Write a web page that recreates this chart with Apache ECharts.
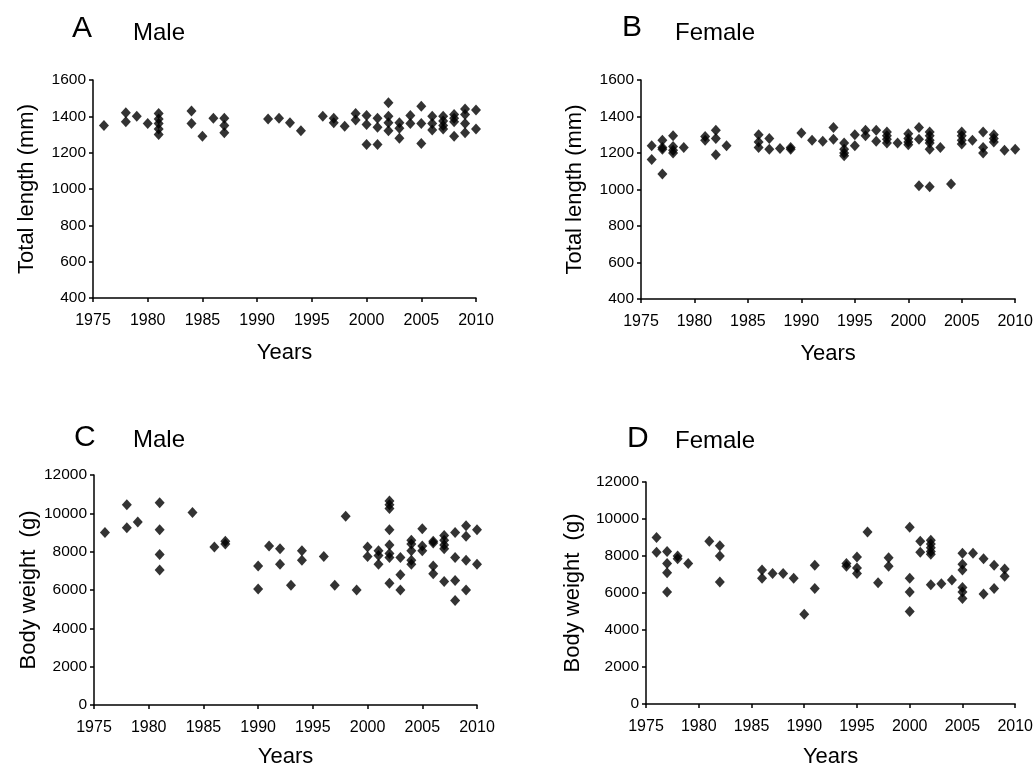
<!DOCTYPE html>
<html>
<head>
<meta charset="utf-8">
<script src="https://cdn.jsdelivr.net/npm/echarts@6/dist/echarts.min.js"></script>
<style>
  html, body { margin: 0; padding: 0; background: #fff; }
  #chart { width: 1036px; height: 769px; }
</style>
</head>
<body>
<div id="chart"></div>
<script>
// [year, value] pairs
var maleLength = [
  [1976, 1350], [1978, 1420], [1978, 1370], [1979, 1400], [1980, 1360],
  [1981, 1415], [1981, 1385], [1981, 1360], [1981, 1330], [1981, 1300],
  [1984, 1430], [1984, 1360], [1985, 1290], [1986, 1390],
  [1987, 1390], [1987, 1350], [1987, 1310],
  [1991, 1385], [1992, 1390], [1993, 1365], [1994, 1320],
  [1996, 1400], [1997, 1390], [1997, 1365], [1998, 1345], [1999, 1415], [1999, 1380],
  [2000, 1405], [2000, 1355], [2000, 1245],
  [2001, 1390], [2001, 1340], [2001, 1245],
  [2002, 1475], [2002, 1400], [2002, 1365], [2002, 1320],
  [2003, 1365], [2003, 1335], [2003, 1280],
  [2004, 1405], [2004, 1360],
  [2005, 1455], [2005, 1360], [2005, 1250],
  [2006, 1400], [2006, 1360], [2006, 1325],
  [2007, 1400], [2007, 1375], [2007, 1350], [2007, 1330],
  [2008, 1410], [2008, 1390], [2008, 1370], [2008, 1290],
  [2009, 1440], [2009, 1410], [2009, 1360], [2009, 1310],
  [2010, 1435], [2010, 1330]
]
var femaleLength = [
  [1976, 1240], [1976, 1165],
  [1977, 1270], [1977, 1230], [1977, 1220], [1977, 1085],
  [1978, 1295], [1978, 1235], [1978, 1215], [1978, 1200],
  [1979, 1230], [1981, 1290], [1981, 1270],
  [1982, 1325], [1982, 1280], [1982, 1190], [1983, 1240],
  [1986, 1300], [1986, 1260], [1986, 1230], [1987, 1280], [1987, 1220],
  [1988, 1225], [1989, 1230], [1989, 1220], [1990, 1310], [1991, 1270], [1992, 1265],
  [1993, 1340], [1993, 1275],
  [1994, 1255], [1994, 1220], [1994, 1200], [1994, 1185],
  [1995, 1300], [1995, 1240], [1996, 1325], [1996, 1295], [1997, 1325], [1997, 1265],
  [1998, 1315], [1998, 1295], [1998, 1275], [1998, 1255], [1999, 1255],
  [2000, 1305], [2000, 1280], [2000, 1260], [2000, 1245],
  [2001, 1340], [2001, 1275], [2001, 1020],
  [2002, 1315], [2002, 1295], [2002, 1270], [2002, 1255], [2002, 1220], [2002, 1015],
  [2003, 1230], [2004, 1030],
  [2005, 1315], [2005, 1295], [2005, 1270], [2005, 1250], [2006, 1270],
  [2007, 1315], [2007, 1230], [2007, 1200],
  [2008, 1300], [2008, 1280], [2008, 1260], [2009, 1215], [2010, 1220]
]
var maleWeight = [
  [1976, 9000], [1978, 10450], [1978, 9250], [1979, 9550],
  [1981, 10550], [1981, 9150], [1981, 7850], [1981, 7050],
  [1984, 10050], [1986, 8250], [1987, 8550], [1987, 8400],
  [1990, 7250], [1990, 6050], [1991, 8300], [1992, 8150], [1992, 7350],
  [1993, 6250], [1994, 8050], [1994, 7550], [1996, 7750], [1997, 6250],
  [1998, 9850], [1999, 6000], [2000, 8250], [2000, 7750],
  [2001, 8050], [2001, 7800], [2001, 7350],
  [2002, 10650], [2002, 10450], [2002, 10250], [2002, 9150], [2002, 8350], [2002, 7900], [2002, 7700], [2002, 6350],
  [2003, 7700], [2003, 6800], [2003, 6000],
  [2004, 8600], [2004, 8400], [2004, 8050], [2004, 7550], [2004, 7350],
  [2005, 9200], [2005, 8300], [2005, 8050],
  [2006, 8550], [2006, 8450], [2006, 7250], [2006, 6850],
  [2007, 8850], [2007, 8600], [2007, 8350], [2007, 8150], [2007, 6450],
  [2008, 9000], [2008, 7700], [2008, 6500], [2008, 5450],
  [2009, 9350], [2009, 8800], [2009, 7550], [2009, 6000],
  [2010, 9150], [2010, 7350]
]
var femaleWeight = [
  [1976, 9000], [1976, 8200], [1977, 8250], [1977, 7600], [1977, 7100], [1977, 6050],
  [1978, 8000], [1978, 7850], [1979, 7600], [1981, 8800],
  [1982, 8550], [1982, 8000], [1982, 6600], [1986, 7250], [1986, 6800],
  [1987, 7050], [1988, 7050], [1989, 6800], [1990, 4850], [1991, 7500], [1991, 6250],
  [1994, 7600], [1994, 7450], [1995, 7950], [1995, 7350], [1995, 7050],
  [1996, 9300], [1997, 6550], [1998, 7900], [1998, 7450],
  [2000, 9550], [2000, 6800], [2000, 6050], [2000, 5000],
  [2001, 8800], [2001, 8200],
  [2002, 8850], [2002, 8650], [2002, 8450], [2002, 8250], [2002, 8100], [2002, 6450],
  [2003, 6500], [2004, 6700],
  [2005, 8150], [2005, 7550], [2005, 7250], [2005, 6300], [2005, 6050], [2005, 5700],
  [2006, 8150], [2007, 7850], [2007, 5950], [2008, 7500], [2008, 6250],
  [2009, 7300], [2009, 6900]
]

var font = "'Liberation Sans', Arial, sans-serif"
var grids = [
  {left: 93, top: 80, width: 383, height: 218},
  {left: 641, top: 80, width: 377, height: 219},
  {left: 94, top: 475, width: 383, height: 231},
  {left: 646, top: 482, width: 373, height: 225}
]
var yNames = ['Total length (mm)', 'Total length (mm)', 'Body weight  (g)', 'Body weight  (g)']
var yRanges = [[400, 1600, 200], [400, 1600, 200], [0, 12000, 2000], [0, 12000, 2000]]
var yGaps = [55, 55, 54, 62]
var xGaps = [44, 44, 41, 42]
var seriesData = [maleLength, femaleLength, maleWeight, femaleWeight]

var axisLine = {onZero: false, lineStyle: {color: '#000', width: 1.5}}
var axisTick = {length: 4, lineStyle: {color: '#000', width: 1.5}}
// plain numbers, no thousands separators
var plain = function (v) { return String(v) }

var xAxes = grids.map(function (g, i) {
  return {
    type: 'value', gridIndex: i, min: 1975, max: 2010, interval: 5,
    name: 'Years', nameLocation: 'middle', nameGap: xGaps[i],
    nameTextStyle: {fontFamily: font, fontSize: 22, color: '#000'},
    axisLine: axisLine, axisTick: axisTick, splitLine: {show: false},
    axisLabel: {fontFamily: font, fontSize: 16, color: '#000', margin: 15, formatter: plain}
  }
})
var yAxes = grids.map(function (g, i) {
  return {
    type: 'value', gridIndex: i, min: yRanges[i][0], max: yRanges[i][1], interval: yRanges[i][2],
    name: yNames[i], nameLocation: 'middle', nameGap: yGaps[i],
    nameTextStyle: {fontFamily: font, fontSize: 22, color: '#000'},
    axisLine: axisLine, axisTick: axisTick, splitLine: {show: false},
    axisLabel: {fontFamily: font, fontSize: 15.5, color: '#000', margin: 7, formatter: plain}
  }
})

function title(text, left, top, size) {
  return {text: text, left: left, top: top, padding: 0,
    textStyle: {fontFamily: font, fontSize: size, fontWeight: 'normal', color: '#000'}}
}

var chart = echarts.init(document.getElementById('chart'))
var option = {
  backgroundColor: '#fff',
  animation: false,
  title: [
    title('A', 72, 14, 30), title('Male', 133, 21, 24),
    title('B', 622, 13, 30), title('Female', 675, 21, 24),
    title('C', 74, 423, 30), title('Male', 133, 428, 24),
    title('D', 627, 424, 30), title('Female', 675, 429, 24)
  ],
  grid: grids,
  xAxis: xAxes,
  yAxis: yAxes,
  series: seriesData.map(function (d, i) {
    return {
      type: 'scatter', xAxisIndex: i, yAxisIndex: i, data: d,
      symbol: 'diamond', symbolSize: [10, 11],
      itemStyle: {color: '#000'}
    }
  })
}
chart.setOption(option)
</script>
</body>
</html>
